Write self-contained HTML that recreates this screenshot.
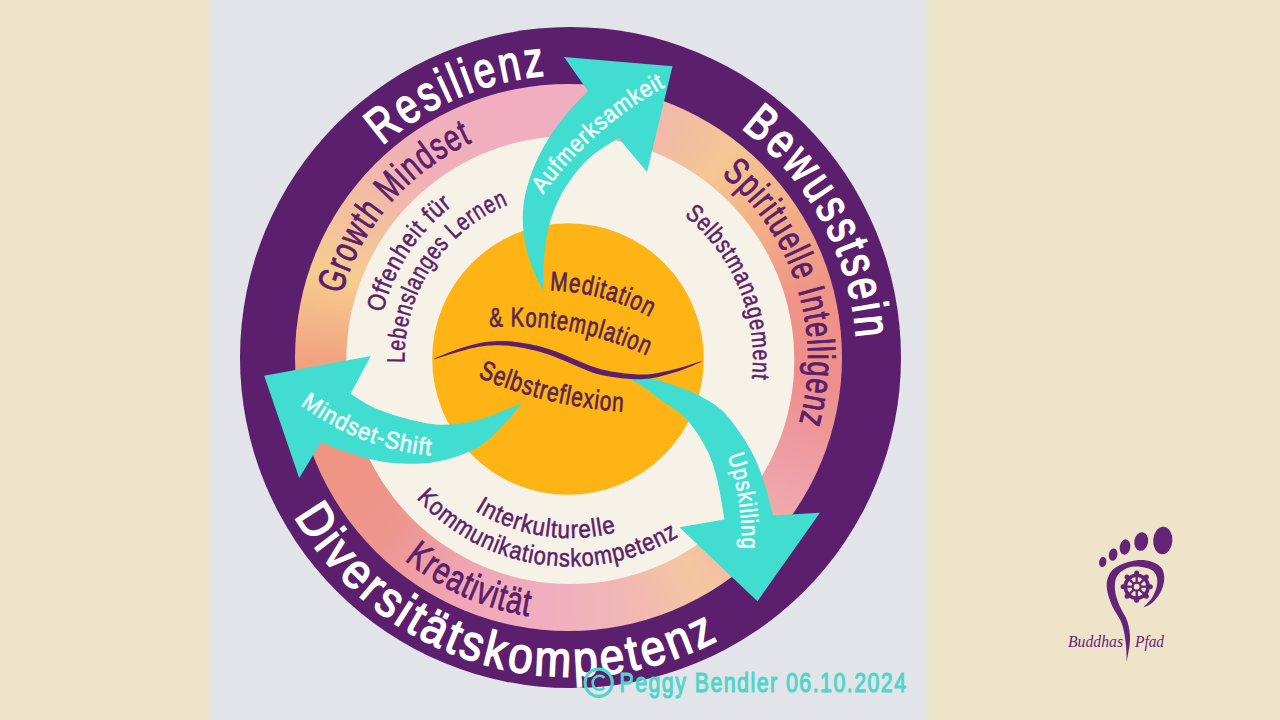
<!DOCTYPE html>
<html><head><meta charset="utf-8"><style>
html,body{margin:0;padding:0;width:1280px;height:720px;overflow:hidden;background:#EFE4C9;}
#g{position:absolute;left:208px;top:0;width:721px;height:720px;background:linear-gradient(to right,#EFE4C9 0px,#E3E4E9 3px,#E3E4E9 718px,#EFE4C9 721px);}
#po{position:absolute;left:240.10000000000002px;top:27.0px;width:660.8px;height:660.8px;border-radius:50%;background:#5C1F6E;}
#pk{position:absolute;left:295.1px;top:84.30000000000001px;width:547.0px;height:547.0px;border-radius:50%;background:conic-gradient(from 0deg, #F0AEC0 0deg, #F1B6AE 18deg, #F5C692 38deg, #F3B088 55deg, #EF9486 75deg, #EE8E8C 95deg, #EFA0A8 118deg, #F2B4A8 135deg, #F5C6A0 150deg, #F1B6B6 168deg, #F0AFC0 185deg, #EFA6B6 205deg, #EE9690 225deg, #EF9480 250deg, #F1A080 268deg, #F6CC8E 289deg, #F3BEA2 306deg, #F0B0B8 323deg, #F0AEC0 345deg, #F0AEC0 360deg);}
svg{position:absolute;left:0;top:0;}
text{font-family:"Liberation Sans",sans-serif;}
</style></head><body>
<div id="g"></div><div id="po"></div><div id="pk"></div>
<svg width="1280" height="720" viewBox="0 0 1280 720">
<defs><path id="p1" d="M382.32,145.80 A284.00,284.00 0 0 1 547.65,75.42"/><path id="p2" d="M740.92,128.20 A286.50,286.50 0 0 1 856.46,340.91"/><path id="p3" d="M294.28,516.06 A318.00,318.00 0 0 0 720.83,638.72"/><path id="p4" d="M341.75,294.63 A237.50,237.50 0 0 1 473.17,141.86"/><path id="p5" d="M721.25,174.98 A237.50,237.50 0 0 1 798.90,423.60"/><path id="p6" d="M404.48,559.89 A261.00,261.00 0 0 0 529.58,616.27"/><path id="p7" d="M382.99,312.79 A193.00,193.00 0 0 1 452.88,205.48"/><path id="p8" d="M404.56,362.85 A166.00,166.00 0 0 1 508.57,204.49"/><path id="p9" d="M684.11,215.67 A182.50,182.50 0 0 1 751.80,379.37"/><path id="p10" d="M474.85,510.39 A179.50,179.50 0 0 0 616.87,531.91"/><path id="p11" d="M416.41,498.22 A208.00,208.00 0 0 0 679.29,535.78"/><path id="p12" d="M549.80,290.40 A225.53,225.53 0 0 1 650.50,317.50"/><path id="p13" d="M489.50,327.10 A317.95,317.95 0 0 1 647.50,356.00"/><path id="p14" d="M477.80,377.00 A439.37,439.37 0 0 0 624.00,411.60"/><path id="p15" d="M543.00,194.50 A366.70,366.70 0 0 1 666.00,86.50"/><path id="p16" d="M300.50,405.00 A254.76,254.76 0 0 0 431.50,455.50"/><path id="p17" d="M727.50,455.50 A265.71,265.71 0 0 1 741.70,549.50"/></defs>
<circle cx="570.3" cy="360" r="224" fill="#F6F2E7"/>
<circle cx="568" cy="359" r="135.8" fill="#FDB414"/>
<path d="M543.50,291.00 C541.83,287.63 536.62,279.02 533.50,270.80 C530.38,262.58 526.50,252.38 524.80,241.70 C523.10,231.02 522.10,218.37 523.30,206.70 C524.50,195.03 527.88,182.88 532.00,171.70 C536.12,160.52 542.17,149.33 548.00,139.60 C553.83,129.87 560.33,121.40 567.00,113.30 C573.67,105.20 584.50,94.72 588.00,91.00 L564.00,57.00 L672.50,66.30 L647.00,172.00 L618.50,138.00 C613.82,141.17 598.48,149.93 590.40,157.00 C582.32,164.07 575.83,172.12 570.00,180.40 C564.17,188.68 559.28,197.47 555.40,206.70 C551.52,215.93 548.64,226.08 546.70,235.80 C544.76,245.52 544.28,255.80 543.75,265.00 C543.22,274.20 543.54,286.67 543.50,291.00 Z" fill="#41DDD1"/>
<path d="M522.40,402.50 C518.20,404.32 506.14,410.12 497.20,413.40 C488.26,416.68 478.95,420.37 468.75,422.20 C458.55,424.03 446.94,425.13 436.00,424.40 C425.06,423.67 413.68,420.72 403.10,417.80 C392.52,414.88 381.25,410.91 372.50,406.90 C363.75,402.89 354.25,395.94 350.60,393.75 L370.80,356.10 L264.20,375.80 L299.20,478.00 L321.10,441.90 C325.65,443.72 338.38,449.52 348.40,452.80 C358.42,456.08 370.30,459.78 381.25,461.60 C392.20,463.43 403.16,464.12 414.10,463.75 C425.04,463.38 435.97,462.32 446.90,459.40 C457.83,456.48 469.85,452.45 479.70,446.25 C489.55,440.05 498.88,429.49 506.00,422.20 C513.12,414.91 519.67,405.78 522.40,402.50 Z" fill="#41DDD1"/>
<path d="M627.50,377.50 C631.25,377.63 641.62,376.77 650.00,378.30 C658.38,379.83 669.47,383.75 677.80,386.70 C686.13,389.65 692.22,391.62 700.00,396.00 C707.78,400.38 716.37,404.54 724.50,413.00 C732.63,421.46 742.43,435.92 748.80,446.75 C755.17,457.58 758.65,466.56 762.70,478.00 C766.75,489.44 771.37,509.17 773.10,515.40 L819.90,512.70 L757.50,601.20 L679.40,527.20 L724.50,519.60 C723.35,513.23 720.49,492.97 717.60,481.40 C714.71,469.83 712.37,460.60 707.15,450.20 C701.93,439.80 693.99,427.37 686.30,419.00 C678.61,410.63 667.98,405.20 661.00,400.00 C654.02,394.80 649.98,391.55 644.40,387.80 C638.82,384.05 630.32,379.22 627.50,377.50 Z" fill="#41DDD1"/>
<path d="M433.95,358.86 L435.55,358.02 L437.70,357.02 L440.30,355.90 L443.21,354.70 L446.31,353.46 L449.50,352.23 L452.64,351.06 L455.63,350.01 L458.52,349.03 L461.48,348.05 L464.48,347.07 L467.52,346.13 L470.58,345.23 L473.64,344.40 L476.68,343.66 L479.69,343.03 L482.65,342.51 L485.57,342.07 L488.47,341.70 L491.36,341.41 L494.26,341.20 L497.16,341.07 L500.10,341.00 L503.07,341.02 L506.09,341.11 L509.15,341.30 L512.22,341.57 L515.31,341.90 L518.38,342.30 L521.44,342.76 L524.47,343.25 L527.47,343.77 L530.43,344.34 L533.38,344.95 L536.30,345.60 L539.21,346.31 L542.12,347.07 L545.02,347.88 L547.93,348.75 L550.85,349.68 L553.79,350.68 L556.71,351.77 L559.61,352.93 L562.50,354.12 L565.38,355.33 L568.26,356.55 L571.14,357.75 L574.05,358.94 L577.01,360.15 L579.95,361.41 L582.87,362.69 L585.78,363.95 L588.71,365.16 L591.67,366.31 L594.67,367.37 L597.76,368.31 L601.00,369.17 L604.38,369.97 L607.87,370.71 L611.41,371.38 L614.96,371.99 L618.48,372.53 L621.93,373.00 L625.27,373.41 L628.47,373.75 L631.57,374.05 L634.59,374.29 L637.55,374.46 L640.52,374.54 L643.51,374.53 L646.57,374.41 L649.75,374.17 L653.06,373.79 L656.50,373.25 L660.04,372.60 L663.63,371.85 L667.23,371.04 L670.78,370.18 L674.26,369.32 L677.60,368.47 L680.97,367.56 L684.47,366.52 L688.00,365.40 L691.45,364.28 L694.68,363.23 L697.59,362.30 L700.06,361.57 L701.95,361.06 L702.05,361.34 L700.29,362.19 L697.97,363.29 L695.19,364.55 L692.05,365.90 L688.69,367.30 L685.22,368.68 L681.74,369.97 L678.40,371.13 L675.08,372.20 L671.64,373.28 L668.09,374.34 L664.49,375.36 L660.87,376.30 L657.26,377.15 L653.71,377.87 L650.25,378.43 L646.93,378.83 L643.71,379.10 L640.56,379.24 L637.45,379.28 L634.34,379.22 L631.21,379.08 L628.02,378.86 L624.73,378.59 L621.31,378.26 L617.76,377.84 L614.13,377.35 L610.47,376.77 L606.81,376.12 L603.19,375.39 L599.66,374.58 L596.24,373.69 L592.93,372.69 L589.72,371.56 L586.62,370.35 L583.59,369.09 L580.63,367.80 L577.72,366.52 L574.84,365.27 L571.95,364.06 L569.02,362.86 L566.10,361.62 L563.23,360.37 L560.38,359.14 L557.55,357.95 L554.74,356.80 L551.95,355.72 L549.15,354.72 L546.34,353.79 L543.53,352.91 L540.72,352.08 L537.91,351.30 L535.10,350.57 L532.26,349.88 L529.41,349.23 L526.53,348.63 L523.61,348.05 L520.65,347.51 L517.68,347.00 L514.69,346.55 L511.72,346.15 L508.76,345.81 L505.83,345.56 L502.93,345.38 L500.07,345.29 L497.24,345.26 L494.44,345.30 L491.64,345.41 L488.84,345.59 L486.02,345.84 L483.18,346.17 L480.31,346.57 L477.38,347.06 L474.41,347.66 L471.39,348.35 L468.35,349.10 L465.31,349.90 L462.29,350.73 L459.30,351.57 L456.37,352.39 L453.37,353.26 L450.19,354.24 L446.96,355.27 L443.79,356.30 L440.80,357.27 L438.11,358.11 L435.82,358.76 L434.05,359.14 Z" fill="#5E1F6A"/>
<text font-size="50" font-weight="normal" fill="#FFFFFF" text-anchor="start" stroke="#FFFFFF" stroke-width="1.6" letter-spacing="4"><textPath href="#p1" textLength="182.8" lengthAdjust="spacingAndGlyphs">Resilienz</textPath></text><text font-size="50" font-weight="normal" fill="#FFFFFF" text-anchor="start" stroke="#FFFFFF" stroke-width="1.6" letter-spacing="4"><textPath href="#p2" textLength="249.9" lengthAdjust="spacingAndGlyphs">Bewusstsein</textPath></text><text font-size="50" font-weight="normal" fill="#FFFFFF" text-anchor="start" stroke="#FFFFFF" stroke-width="1.6" letter-spacing="4"><textPath href="#p3" textLength="491.3" lengthAdjust="spacingAndGlyphs">Diversitätskompetenz</textPath></text><text font-size="38" font-weight="normal" fill="#5B1F6B" text-anchor="start" stroke="#5B1F6B" stroke-width="0.9" letter-spacing="1.5"><textPath href="#p4" textLength="208.1" lengthAdjust="spacingAndGlyphs">Growth Mindset</textPath></text><text font-size="38" font-weight="normal" fill="#5B1F6B" text-anchor="start" stroke="#5B1F6B" stroke-width="0.9" letter-spacing="1.5"><textPath href="#p5" textLength="275.7" lengthAdjust="spacingAndGlyphs">Spirituelle Intelligenz</textPath></text><text font-size="38" font-weight="normal" fill="#5B1F6B" text-anchor="start" stroke="#5B1F6B" stroke-width="0.9" letter-spacing="1.5"><textPath href="#p6" textLength="138.8" lengthAdjust="spacingAndGlyphs">Kreativität</textPath></text><text font-size="25" font-weight="normal" fill="#5B1F6B" text-anchor="start" stroke="#5B1F6B" stroke-width="0.55" letter-spacing="1"><textPath href="#p7" textLength="130.5" lengthAdjust="spacingAndGlyphs">Offenheit für</textPath></text><text font-size="25" font-weight="normal" fill="#5B1F6B" text-anchor="start" stroke="#5B1F6B" stroke-width="0.55" letter-spacing="1"><textPath href="#p8" textLength="201.6" lengthAdjust="spacingAndGlyphs">Lebenslanges Lernen</textPath></text><text font-size="25" font-weight="normal" fill="#5B1F6B" text-anchor="start" stroke="#5B1F6B" stroke-width="0.55" letter-spacing="1"><textPath href="#p9" textLength="185.0" lengthAdjust="spacingAndGlyphs">Selbstmanagement</textPath></text><text font-size="25" font-weight="normal" fill="#5B1F6B" text-anchor="start" stroke="#5B1F6B" stroke-width="0.55" letter-spacing="1"><textPath href="#p10" textLength="147.8" lengthAdjust="spacingAndGlyphs">Interkulturelle</textPath></text><text font-size="25" font-weight="normal" fill="#5B1F6B" text-anchor="start" stroke="#5B1F6B" stroke-width="0.55" letter-spacing="1"><textPath href="#p11" textLength="288.0" lengthAdjust="spacingAndGlyphs">Kommunikationskompetenz</textPath></text><text font-size="27" font-weight="normal" fill="#5A2352" text-anchor="start" stroke="#5A2352" stroke-width="0.7" letter-spacing="1.2"><textPath href="#p12" textLength="105.2" lengthAdjust="spacingAndGlyphs">Meditation</textPath></text><text font-size="27" font-weight="normal" fill="#5A2352" text-anchor="start" stroke="#5A2352" stroke-width="0.7" letter-spacing="1.2"><textPath href="#p13" textLength="162.4" lengthAdjust="spacingAndGlyphs">&amp; Kontemplation</textPath></text><text font-size="27" font-weight="normal" fill="#5A2352" text-anchor="start" stroke="#5A2352" stroke-width="0.7" letter-spacing="1.2"><textPath href="#p14" textLength="151.0" lengthAdjust="spacingAndGlyphs">Selbstreflexion</textPath></text><text font-size="24" font-weight="normal" fill="#F2FFFC" text-anchor="start" stroke="#F2FFFC" stroke-width="0.6" letter-spacing="1"><textPath href="#p15" textLength="165.1" lengthAdjust="spacingAndGlyphs">Aufmerksamkeit</textPath></text><text font-size="24" font-weight="normal" fill="#F2FFFC" text-anchor="start" stroke="#F2FFFC" stroke-width="0.6" letter-spacing="1"><textPath href="#p16" textLength="142.2" lengthAdjust="spacingAndGlyphs">Mindset-Shift</textPath></text><text font-size="24" font-weight="normal" fill="#F2FFFC" text-anchor="start" stroke="#F2FFFC" stroke-width="0.6" letter-spacing="1"><textPath href="#p17" textLength="95.6" lengthAdjust="spacingAndGlyphs">Upskilling</textPath></text>
<circle cx="598.7" cy="682.8" r="13.6" fill="none" stroke="#4FD6C9" stroke-width="3.2"/><path d="M604.5,677.8 A7,7 0 1 0 604.5,687.8" fill="none" stroke="#4FD6C9" stroke-width="2.6"/><text x="619.5" y="691.6" font-size="28.5" fill="#4FD6C9" stroke="#4FD6C9" stroke-width="1.2" letter-spacing="2" textLength="288" lengthAdjust="spacingAndGlyphs">Peggy Bendler 06.10.2024</text>
<path d="M1126.70,661.70 C1126.55,658.63 1126.63,649.70 1125.80,643.30 C1124.97,636.90 1124.05,629.68 1121.70,623.30 C1119.35,616.92 1114.20,611.10 1111.70,605.00 C1109.20,598.90 1106.98,591.98 1106.70,586.70 C1106.42,581.42 1107.78,576.92 1110.00,573.30 C1112.22,569.68 1115.55,567.17 1120.00,565.00 C1124.45,562.83 1131.42,560.85 1136.70,560.30 C1141.98,559.75 1147.53,560.37 1151.70,561.70 C1155.87,563.03 1159.62,565.25 1161.70,568.30 C1163.78,571.35 1164.48,575.83 1164.20,580.00 C1163.92,584.17 1162.08,589.42 1160.00,593.30 C1157.92,597.18 1154.48,600.93 1151.70,603.30 C1148.92,605.67 1144.70,606.80 1143.30,607.50 C1144.70,605.97 1149.47,601.77 1151.70,598.30 C1153.93,594.83 1155.87,590.30 1156.70,586.70 C1157.53,583.10 1157.53,579.48 1156.70,576.70 C1155.87,573.92 1154.48,571.67 1151.70,570.00 C1148.92,568.33 1144.17,566.98 1140.00,566.70 C1135.83,566.42 1130.58,566.63 1126.70,568.30 C1122.82,569.97 1118.65,573.08 1116.70,576.70 C1114.75,580.32 1114.58,585.28 1115.00,590.00 C1115.42,594.72 1117.12,599.72 1119.20,605.00 C1121.28,610.28 1125.70,615.87 1127.50,621.70 C1129.30,627.53 1130.13,633.33 1130.00,640.00 C1129.87,646.67 1127.25,658.08 1126.70,661.70 Z" fill="#642578"/><ellipse cx="1162.8" cy="540.5" rx="9.6" ry="13.8" transform="rotate(4 1162.8 540.5)" fill="#642578"/><ellipse cx="1141.25" cy="541.5" rx="6.9" ry="9.4" transform="rotate(10 1141.25 541.5)" fill="#642578"/><ellipse cx="1125" cy="547" rx="5.3" ry="7.7" transform="rotate(10 1125 547)" fill="#642578"/><ellipse cx="1113.1" cy="554.6" rx="4.3" ry="6.2" transform="rotate(10 1113.1 554.6)" fill="#642578"/><ellipse cx="1102.7" cy="562" rx="3.6" ry="5.2" transform="rotate(10 1102.7 562)" fill="#642578"/><circle cx="1136.7" cy="586.7" r="11.4" fill="none" stroke="#642578" stroke-width="3.6"/><circle cx="1136.7" cy="586.7" r="4" fill="none" stroke="#642578" stroke-width="2.2"/><line x1="1140.20" y1="586.70" x2="1147.70" y2="586.70" stroke="#642578" stroke-width="2.3"/><line x1="1139.17" y1="589.17" x2="1144.48" y2="594.48" stroke="#642578" stroke-width="2.3"/><line x1="1136.70" y1="590.20" x2="1136.70" y2="597.70" stroke="#642578" stroke-width="2.3"/><line x1="1134.23" y1="589.17" x2="1128.92" y2="594.48" stroke="#642578" stroke-width="2.3"/><line x1="1133.20" y1="586.70" x2="1125.70" y2="586.70" stroke="#642578" stroke-width="2.3"/><line x1="1134.23" y1="584.23" x2="1128.92" y2="578.92" stroke="#642578" stroke-width="2.3"/><line x1="1136.70" y1="583.20" x2="1136.70" y2="575.70" stroke="#642578" stroke-width="2.3"/><line x1="1139.17" y1="584.23" x2="1144.48" y2="578.92" stroke="#642578" stroke-width="2.3"/><circle cx="1150.30" cy="586.70" r="2.5" fill="#642578"/><circle cx="1146.32" cy="596.32" r="2.5" fill="#642578"/><circle cx="1136.70" cy="600.30" r="2.5" fill="#642578"/><circle cx="1127.08" cy="596.32" r="2.5" fill="#642578"/><circle cx="1123.10" cy="586.70" r="2.5" fill="#642578"/><circle cx="1127.08" cy="577.08" r="2.5" fill="#642578"/><circle cx="1136.70" cy="573.10" r="2.5" fill="#642578"/><circle cx="1146.32" cy="577.08" r="2.5" fill="#642578"/><text x="1068" y="646.5" font-family="Liberation Serif" font-style="italic" font-size="17" fill="#642578" textLength="55" lengthAdjust="spacingAndGlyphs" style="font-family:'Liberation Serif',serif">Buddhas</text><text x="1135" y="646.5" font-style="italic" font-size="17" fill="#642578" textLength="29" lengthAdjust="spacingAndGlyphs" style="font-family:'Liberation Serif',serif">Pfad</text>
</svg>
</body></html>
